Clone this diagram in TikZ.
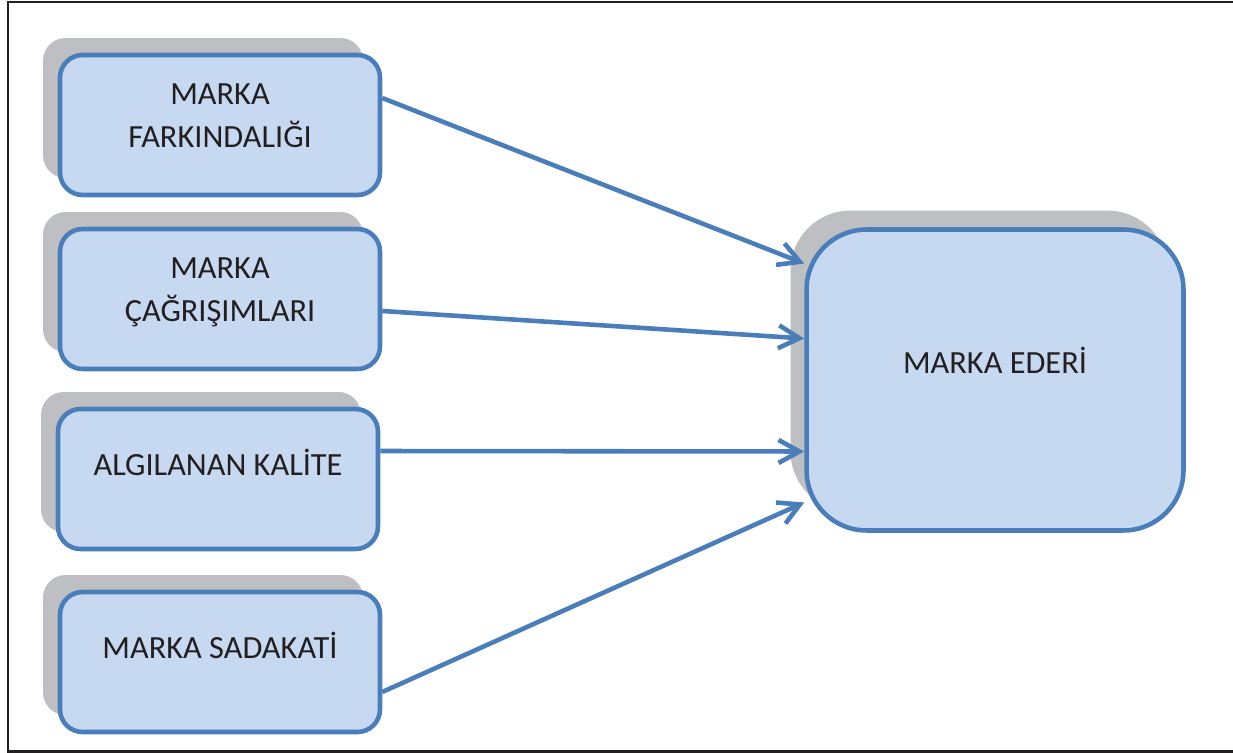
\documentclass[tikz,border=0pt]{standalone}
\usepackage{fontspec}
\setmainfont{Carlito}
\usetikzlibrary{arrows.meta,shadows}
\definecolor{boxfill}{HTML}{C6D9F1}
\definecolor{boxline}{HTML}{4A7EBB}
\definecolor{shd}{HTML}{BEBFC3}
\definecolor{ink}{HTML}{231F20}
% last baseline of the text sits #1 above the box centre
\newcommand\boxtext[2][0.08cm]{\raisebox{#1}[0pt][0pt]{\begin{tabular}[b]{@{}c@{}}#2\end{tabular}}}
\tikzset{
  box/.style ={draw=boxline,line width=2.6pt,fill=boxfill,inner sep=0pt,text=ink,
               font=\fontsize{18.4pt}{24.5pt}\selectfont},
  blk/.style ={box,rounded corners=0.45cm,minimum width=6.4cm,minimum height=2.8cm,
               general shadow={shadow xshift=-0.34cm,shadow yshift=0.34cm,fill=shd}},
  main/.style={box,rounded corners=1.2cm,minimum width=7.54cm,minimum height=6.02cm,
               general shadow={shadow xshift=-0.32cm,shadow yshift=0.38cm,fill=shd}},
  arr/.style ={draw=boxline,line width=2.6pt,-{Straight Barb[length=0.42cm,width=0.46cm]}},
  frm/.style ={draw=ink,line width=1.7pt},
}
\begin{document}
\begin{tikzpicture}[x=0.02cm,y=-0.02cm]
  \useasboundingbox (0,0) rectangle (1233,753);
  \draw[frm] (1233,2) -- (8,2) -- (8,751) -- (1233,751);

  \node[blk] (far) at (220,125) {\boxtext[-0.46cm]{MARKA\\FARKINDALIĞI}};
  \node[blk] (cag) at (220,299) {\boxtext[-0.46cm]{MARKA\\ÇAĞRIŞIMLARI}};
  \node[blk] (alg) at (218,479) {\boxtext{ALGILANAN KALİTE}};
  \node[blk] (sad) at (220,662) {\boxtext{MARKA SADAKATİ}};
  \node[main] (eder) at (995,380) {\boxtext[0.14cm]{MARKA EDERİ}};

  \draw[arr] ([yshift=0.54cm]far.east) -- ([yshift=2.33cm]eder.west);
  \draw[arr] ([yshift=-0.24cm]cag.east) -- ([yshift=0.83cm]eder.west);
  \draw[arr] ([yshift=0.56cm]alg.east) -- ([yshift=-1.43cm]eder.west);
  \draw[arr] ([yshift=-0.6cm]sad.east) -- ([yshift=-2.45cm]eder.west);
\end{tikzpicture}
\end{document}
